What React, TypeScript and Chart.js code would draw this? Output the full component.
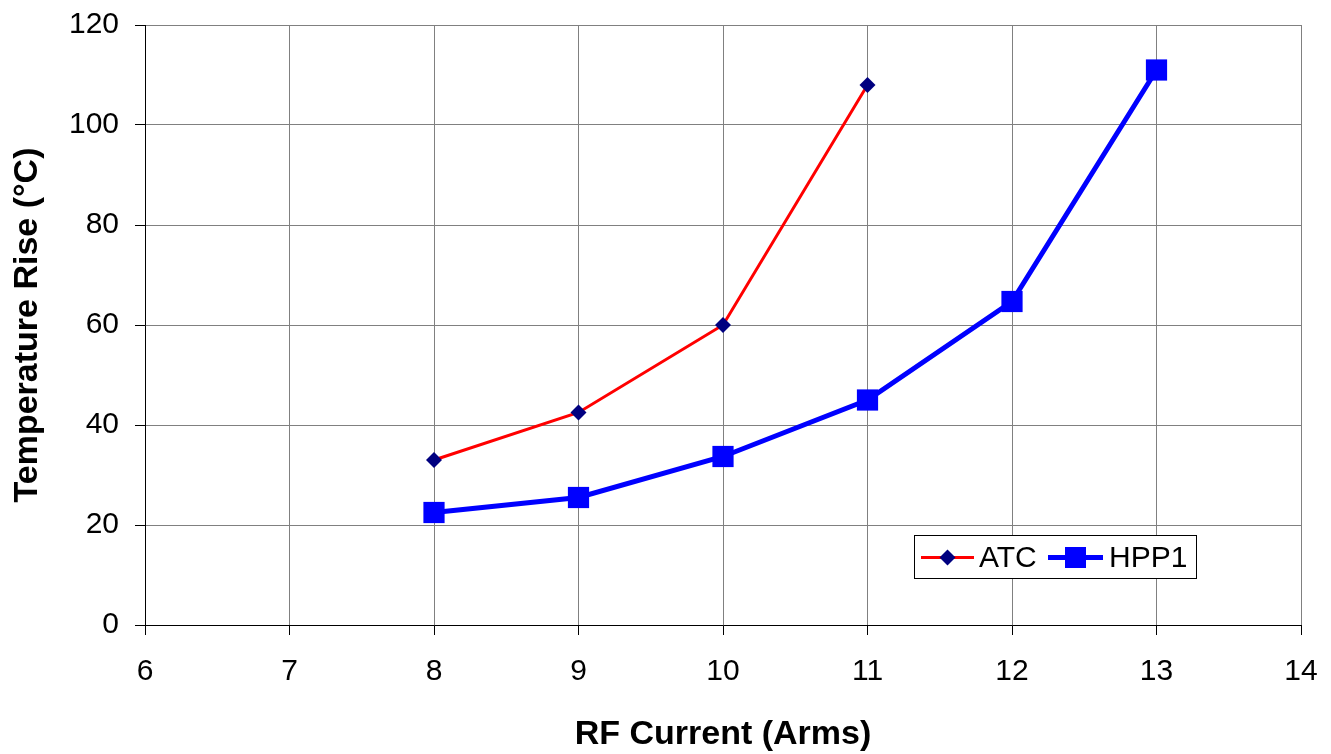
import React, { useEffect, useRef } from "react";
import { Chart, registerables } from "chart.js";
Chart.register(...registerables);

const atcX = [8, 9, 10, 11];
const atcY = [33, 42.5, 60, 108];
const hppX = [8, 9, 10, 11, 12, 13];
const hppY = [22.5, 25.5, 33.7, 45, 64.7, 111];
const seriesNames = ["ATC", "HPP1"];
const xTitle = "RF Current (Arms)";
const yTitle = "Temperature Rise (°C)";

const FONT = "'Liberation Sans', Arial, sans-serif";

const legendPlugin = {
  id: "boxLegend",
  afterDraw(chart: any) {
    const ctx = chart.ctx;
    const xs = chart.scales.x;
    const ys = chart.scales.y;
    const bx = Math.round(xs.left + (xs.right - xs.left) * 0.665);
    const by = Math.round(ys.top + (ys.bottom - ys.top) * 0.85);
    const bw = 282;
    const bh = 43;
    ctx.save();
    ctx.fillStyle = "#ffffff";
    ctx.fillRect(bx, by, bw, bh);
    ctx.strokeStyle = "#000000";
    ctx.lineWidth = 1;
    ctx.strokeRect(bx + 0.5, by + 0.5, bw, bh);
    const cy = by + bh / 2 + 1;
    ctx.font = `30px ${FONT}`;
    ctx.textBaseline = "middle";
    // ATC
    ctx.strokeStyle = "#ff0000";
    ctx.lineWidth = 3;
    ctx.beginPath();
    ctx.moveTo(bx + 7, cy);
    ctx.lineTo(bx + 60, cy);
    ctx.stroke();
    ctx.fillStyle = "#000080";
    ctx.beginPath();
    ctx.moveTo(bx + 33.5, cy - 8);
    ctx.lineTo(bx + 41.5, cy);
    ctx.lineTo(bx + 33.5, cy + 8);
    ctx.lineTo(bx + 25.5, cy);
    ctx.closePath();
    ctx.fill();
    ctx.fillStyle = "#000";
    ctx.fillText(seriesNames[0], bx + 65, cy + 1);
    // HPP1
    ctx.strokeStyle = "#0000ff";
    ctx.lineWidth = 5;
    ctx.beginPath();
    ctx.moveTo(bx + 134, cy);
    ctx.lineTo(bx + 189, cy);
    ctx.stroke();
    ctx.fillStyle = "#0000ff";
    ctx.fillRect(bx + 151, cy - 10.5, 21, 21);
    ctx.fillStyle = "#000";
    ctx.fillText(seriesNames[1], bx + 195, cy + 1);
    ctx.restore();
  },
};

export default function App() {
  const ref = useRef<HTMLCanvasElement>(null);
  useEffect(() => {
    if (!ref.current) return;
    const chart = new Chart(ref.current, {
      type: "line",
      data: {
        datasets: [
          {
            label: seriesNames[0],
            data: atcX.map((x, i) => ({ x, y: atcY[i] })),
            borderColor: "#ff0000",
            borderWidth: 3,
            pointStyle: "rectRot",
            pointRadius: 8,
            pointBackgroundColor: "#000080",
            pointBorderColor: "#000080",
            pointBorderWidth: 0,
            tension: 0,
          },
          {
            label: seriesNames[1],
            data: hppX.map((x, i) => ({ x, y: hppY[i] })),
            borderColor: "#0000ff",
            borderWidth: 5,
            pointStyle: "rect",
            pointRadius: 15,
            pointBackgroundColor: "#0000ff",
            pointBorderColor: "#0000ff",
            pointBorderWidth: 0,
            tension: 0,
          },
        ],
      },
      options: {
        animation: false,
        responsive: false,
        maintainAspectRatio: false,
        layout: { padding: { left: 0, top: 0, right: 0, bottom: 0 } },
        plugins: {
          legend: { display: false },
          tooltip: { enabled: false },
        },
        scales: {
          x: {
            type: "linear",
            min: 6,
            max: 14,
            ticks: {
              stepSize: 1,
              color: "#000",
              font: { family: FONT, size: 30 },
              padding: 19,
              maxRotation: 0,
              autoSkip: false,
            },
            grid: {
              color: "#808080",
              lineWidth: 1,
              tickLength: 10,
              tickColor: "#000",
            },
            border: { color: "#000", width: 1 },
            title: {
              display: true,
              text: xTitle,
              color: "#000",
              font: { family: FONT, size: 34, weight: "bold" },
              padding: { top: 10, bottom: -1 },
            },
            afterFit(s: any) {
              s.height = 129;
              s.paddingLeft = 0;
              s.paddingRight = 30;
            },
          },
          y: {
            min: 0,
            max: 120,
            ticks: {
              stepSize: 20,
              color: "#000",
              font: { family: FONT, size: 30 },
              padding: 16,
            },
            grid: {
              color: "#808080",
              lineWidth: 1,
              tickLength: 10,
              tickColor: "#000",
            },
            border: { color: "#000", width: 1 },
            title: {
              display: true,
              text: yTitle,
              color: "#000",
              font: { family: FONT, size: 34, weight: "bold" },
              padding: { top: 7, bottom: 10 },
            },
            afterFit(s: any) {
              s.width = 145;
              s.paddingTop = 25;
              s.paddingBottom = 0;
            },
          },
        },
      },
      plugins: [legendPlugin],
    });
    return () => chart.destroy();
  }, []);
  return (
    <div style={{ position: "fixed", left: 0, top: 0, width: 1331, height: 754, background: "#fff" }}>
      <canvas ref={ref} width={1331} height={754} style={{ width: 1331, height: 754 }} />
    </div>
  );
}
